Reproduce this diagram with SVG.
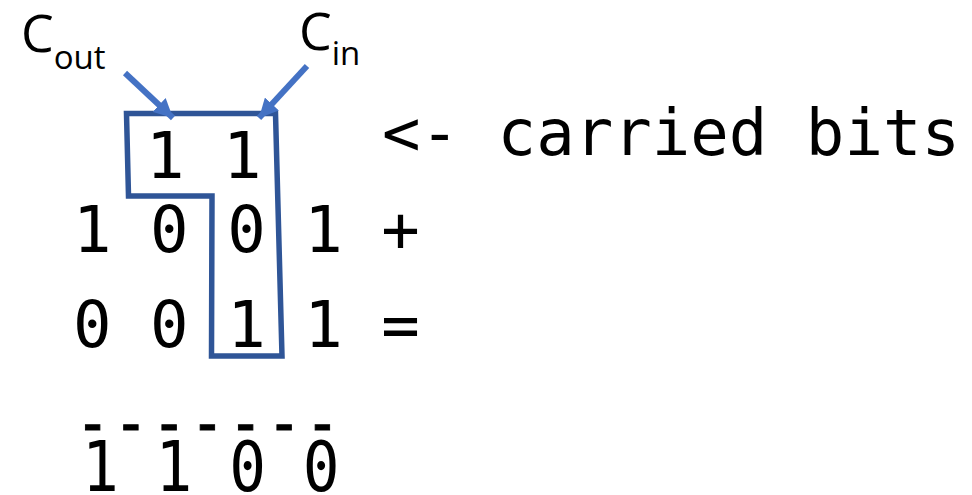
<svg xmlns="http://www.w3.org/2000/svg" width="972" height="495" viewBox="0 0 972 495">
<style>
.m{font-family:"DejaVu Sans Mono","Liberation Mono",monospace;font-size:64px;fill:#000;white-space:pre}
.s{font-family:"Open Sans","Noto Sans","Liberation Sans",sans-serif;fill:#000}
.arr{stroke:#4472C4;stroke-width:6;fill:none;marker-end:url(#ah)}
</style>
<defs>
<marker id="ah" viewBox="0 0 10 10" markerUnits="userSpaceOnUse" markerWidth="19" markerHeight="19" refX="10" refY="5" orient="auto">
<path d="M0,0 L10,5 L0,10 z" fill="#4472C4"/>
</marker>
</defs>
<rect width="972" height="495" fill="#fff"/>
<g id="carry-row"><text class="m" x="146" y="178" xml:space="preserve">1 1</text></g>
<g id="carried-label"><text class="m" x="382" y="155" xml:space="preserve">&lt;- carried bits</text></g>
<g id="row-a"><text class="m" x="73" y="252" xml:space="preserve">1 0 0 1 +</text></g>
<g id="row-b"><text class="m" x="73" y="347" xml:space="preserve">0 0 1 1 =</text></g>
<g id="rule"><text class="m" x="0" y="0" letter-spacing="4.5" stroke="#000" stroke-width="1" transform="translate(75.4,445) scale(0.89,1)" xml:space="preserve">-------</text></g>
<g id="result"><text class="m" x="0" y="0" transform="translate(82,491) scale(0.955,1.08)" xml:space="preserve">1 1 0 0</text></g>
<g id="cout"><text class="s" x="21" y="52" font-size="52">C<tspan font-size="33" y="69">out</tspan></text></g>
<g id="cin"><text class="s" x="299" y="50" font-size="52">C<tspan font-size="33" y="65">in</tspan></text></g>
<g id="outline"><path d="M126.5,113.5 L275.5,113.5 L282,356 L211.5,356 L212,196 L128.5,196 Z" fill="none" stroke="#2F5597" stroke-width="5.5" stroke-linejoin="miter"/></g>
<g id="connectors">
<line class="arr" x1="125" y1="73" x2="173" y2="118"/>
<line class="arr" x1="307" y1="66" x2="259" y2="118"/>
</g>
</svg>
